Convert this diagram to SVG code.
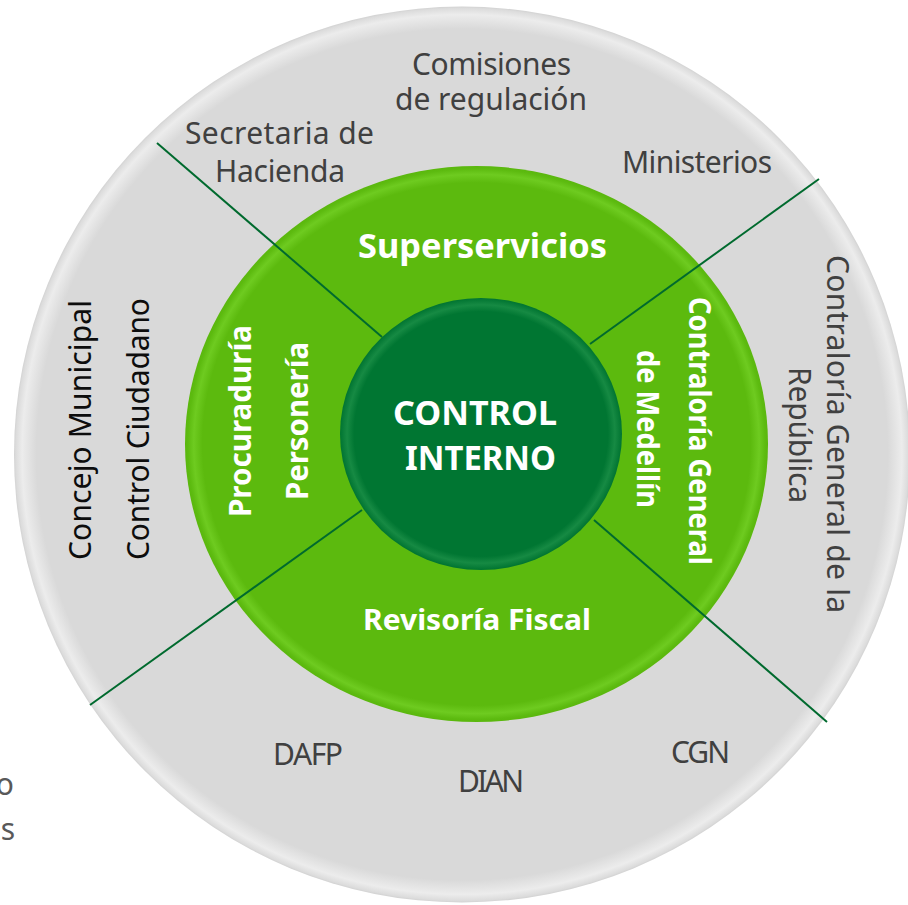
<svg xmlns="http://www.w3.org/2000/svg" width="908" height="905" viewBox="0 0 908 905">
<defs>
<radialGradient id="gGray" cx="50%" cy="50%" r="50%">
<stop offset="0" stop-color="#d9d9d9"/>
<stop offset="0.95" stop-color="#d9d9d9"/>
<stop offset="0.982" stop-color="#ececec"/>
<stop offset="0.996" stop-color="#dcdcdc"/>
<stop offset="1" stop-color="#d2d2d2"/>
</radialGradient>
<radialGradient id="gGreen" cx="50%" cy="50%" r="50%">
<stop offset="0" stop-color="#5cba0e"/>
<stop offset="0.94" stop-color="#5cba0e"/>
<stop offset="0.97" stop-color="#6ecb20"/>
<stop offset="0.99" stop-color="#5dbb10"/>
<stop offset="1" stop-color="#5ab70d"/>
</radialGradient>
<radialGradient id="gDark" cx="50%" cy="50%" r="50%">
<stop offset="0" stop-color="#007632"/>
<stop offset="0.9" stop-color="#007632"/>
<stop offset="0.95" stop-color="#168a43"/>
<stop offset="1" stop-color="#007431"/>
</radialGradient>
</defs>
<style>
.g{font-family:"Noto Sans","Liberation Sans",sans-serif;font-size:30px;fill:#404040;text-anchor:middle}
.k{font-family:"Noto Sans","Liberation Sans",sans-serif;font-size:30px;fill:#0d0d0d;text-anchor:middle}
.w{font-family:"Noto Sans","Liberation Sans",sans-serif;font-weight:bold;fill:#ffffff;text-anchor:middle}
.ln{stroke:#006a2e;stroke-width:2;fill:none}
</style>
<g id="outer-ring">
<circle cx="462" cy="454.5" r="448" fill="url(#gGray)"/>
</g>
<g id="middle-ring">
<ellipse cx="476.5" cy="444" rx="291.5" ry="278" fill="url(#gGreen)"/>
</g>
<g id="core">
<ellipse cx="481" cy="434" rx="141" ry="136" fill="url(#gDark)"/>
</g>
<g id="connectors">
<line class="ln" x1="157" y1="143" x2="382" y2="337"/>
<line class="ln" x1="819" y1="179" x2="590" y2="344"/>
<line class="ln" x1="90" y1="705" x2="362" y2="510"/>
<line class="ln" x1="594" y1="520" x2="827" y2="722"/>
</g>
<g id="core-label">
<text class="w" x="475" y="425" font-size="34" textLength="164" lengthAdjust="spacingAndGlyphs">CONTROL</text>
<text class="w" x="480.5" y="470" font-size="34" textLength="151" lengthAdjust="spacingAndGlyphs">INTERNO</text>
</g>
<g id="superservicios">
<text class="w" x="482.5" y="258" font-size="34" textLength="249" lengthAdjust="spacingAndGlyphs">Superservicios</text>
</g>
<g id="revisoria">
<text class="w" x="477" y="630" font-size="29" textLength="228" lengthAdjust="spacingAndGlyphs">Revisoría Fiscal</text>
</g>
<g id="procuraduria">
<text class="w" font-size="31" textLength="192" lengthAdjust="spacingAndGlyphs" transform="translate(251,421) rotate(-90)">Procuraduría</text>
</g>
<g id="personeria">
<text class="w" font-size="31" textLength="158" lengthAdjust="spacingAndGlyphs" transform="translate(308,421) rotate(-90)">Personería</text>
</g>
<g id="contraloria-medellin">
<text class="w" font-size="31" textLength="268" lengthAdjust="spacingAndGlyphs" transform="translate(689,431) rotate(90)">Contraloría General</text>
<text class="w" font-size="31" textLength="158" lengthAdjust="spacingAndGlyphs" transform="translate(637,429) rotate(90)">de Medellín</text>
</g>
<g id="comisiones">
<text class="g" x="491.5" y="75" textLength="159">Comisiones</text>
<text class="g" x="491" y="110" textLength="192">de regulación</text>
</g>
<g id="hacienda">
<text class="g" x="279.5" y="144" textLength="189">Secretaria de</text>
<text class="g" x="280" y="182" textLength="130">Hacienda</text>
</g>
<g id="ministerios">
<text class="g" x="697" y="173" textLength="150">Ministerios</text>
</g>
<g id="contraloria-republica">
<text class="g" textLength="358" transform="translate(827,434) rotate(90)">Contraloría General de la</text>
<text class="g" textLength="136" transform="translate(789,435) rotate(90)">República</text>
</g>
<g id="concejo">
<text class="k" textLength="260" transform="translate(91,430) rotate(-90)">Concejo Municipal</text>
</g>
<g id="control-ciudadano">
<text class="k" textLength="262" transform="translate(149,429) rotate(-90)">Control Ciudadano</text>
</g>
<g id="dafp">
<text class="g" x="308" y="765" textLength="70">DAFP</text>
</g>
<g id="dian">
<text class="g" x="491" y="792" textLength="66">DIAN</text>
</g>
<g id="cgn">
<text class="g" x="700.5" y="763" textLength="59">CGN</text>
</g>
<g id="cut-text">
<text class="g" x="14" y="795" style="text-anchor:end;fill:#595959">o</text>
<text class="g" x="15" y="840" style="text-anchor:end;fill:#595959">s</text>
</g>
</svg>
